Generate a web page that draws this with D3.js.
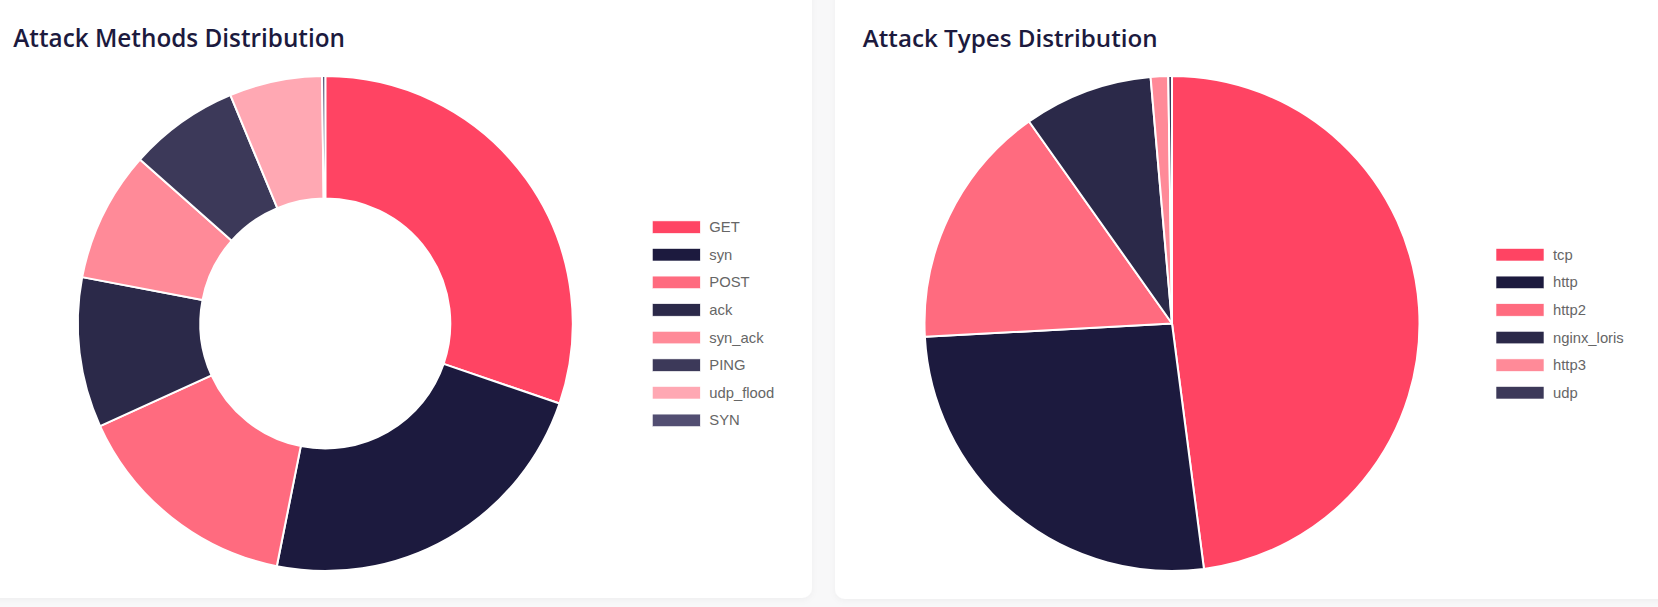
<!DOCTYPE html>
<html>
<head>
<meta charset="utf-8">
<script src="https://cdn.jsdelivr.net/npm/d3@7/dist/d3.min.js"></script>
<style>
  html, body { margin: 0; padding: 0; background: #f8f8f9; overflow: hidden; }
  svg { display: block; }
</style>
</head>
<body>
<svg id="chart" width="1658" height="607"></svg>
<script>
// ---- data ----
const methodLabels = ["GET", "syn", "POST", "ack", "syn_ack", "PING", "udp_flood", "SYN"];
const methodValues = [3024, 2290, 1506, 980, 853, 720, 606, 21];
const typeLabels = ["tcp", "http", "http2", "nginx_loris", "http3", "udp"];
const typeValues = [4794, 2620, 1606, 842, 114, 24];
const palette = ["#ff4463", "#1c1a3e", "#ff6b7f", "#2b2949", "#ff8a98", "#3c3959", "#ffa8b3", "#524e72"];
const titles = ["Attack Methods Distribution", "Attack Types Distribution"];

const svg = d3.select("#chart");

// cards
const defs = svg.append("defs");
const f = defs.append("filter").attr("id", "shadow").attr("x", "-5%").attr("y", "-5%").attr("width", "110%").attr("height", "110%");
f.append("feDropShadow").attr("dx", 0).attr("dy", 2).attr("stdDeviation", 3).attr("flood-color", "#000").attr("flood-opacity", 0.04);

const cards = [
  {x: -20, y: -20, w: 832, h: 618},
  {x: 835, y: -20, w: 860, h: 619}
];
cards.forEach(c => {
  svg.append("rect").attr("x", c.x).attr("y", c.y).attr("width", c.w).attr("height", c.h)
    .attr("rx", 10).attr("fill", "#ffffff").attr("filter", "url(#shadow)");
});

function fitTitle(sel, targetW) {
  const w = sel.node().getComputedTextLength();
  const fs = parseFloat(sel.attr("font-size"));
  sel.attr("font-size", fs * targetW / w);
}

function drawChart(cfg) {
  const g = svg.append("g");
  const t = g.append("text").attr("x", cfg.titleX).attr("y", 46.5)
    .attr("font-family", "'Open Sans', 'Noto Sans', sans-serif")
    .attr("font-weight", 600).attr("font-size", 24).attr("fill", "#1c1a3e")
    .text(cfg.title);
  fitTitle(t, cfg.titleW);

  const pie = d3.pie().sort(null).value(d => d.v);
  const arcs = pie(cfg.labels.map((l, i) => ({l, v: cfg.values[i]})));
  const arc = d3.arc().innerRadius(cfg.inner).outerRadius(cfg.outer);
  const color = d3.scaleOrdinal().domain(cfg.labels).range(palette);

  const pg = g.append("g").attr("transform", `translate(${cfg.cx},${cfg.cy})`);
  pg.selectAll("path").data(arcs).join("path")
    .attr("d", arc)
    .attr("fill", d => color(d.data.l))
    .attr("stroke", "#ffffff").attr("stroke-width", 2).attr("stroke-linejoin", "round");

  const n = cfg.labels.length;
  const step = 27.6;
  const y0 = cfg.cy - (n - 1) * step / 2;
  const lg = g.append("g");
  const items = lg.selectAll("g").data(cfg.labels).join("g")
    .attr("transform", (d, i) => `translate(${cfg.legendX},${y0 + i * step})`);
  items.append("rect").attr("x", 0).attr("y", -6).attr("width", 48).attr("height", 12.5)
    .attr("fill", d => color(d)).attr("stroke", "#ffffff").attr("stroke-width", 0.6);
  items.append("text").attr("x", 57).attr("y", 0).attr("dy", "0.36em")
    .attr("font-family", "'Liberation Sans', Arial, sans-serif").attr("font-size", 14.8)
    .attr("fill", "#666666").text(d => d);
}

drawChart({
  title: titles[0], titleX: 13.3, titleW: 332,
  labels: methodLabels, values: methodValues,
  cx: 325.3, cy: 323.5, inner: 125, outer: 247.5,
  legendX: 652.3
});
drawChart({
  title: titles[1], titleX: 862.8, titleW: 295,
  labels: typeLabels, values: typeValues,
  cx: 1172, cy: 323.5, inner: 0, outer: 247.5,
  legendX: 1496
});
</script>
</body>
</html>
